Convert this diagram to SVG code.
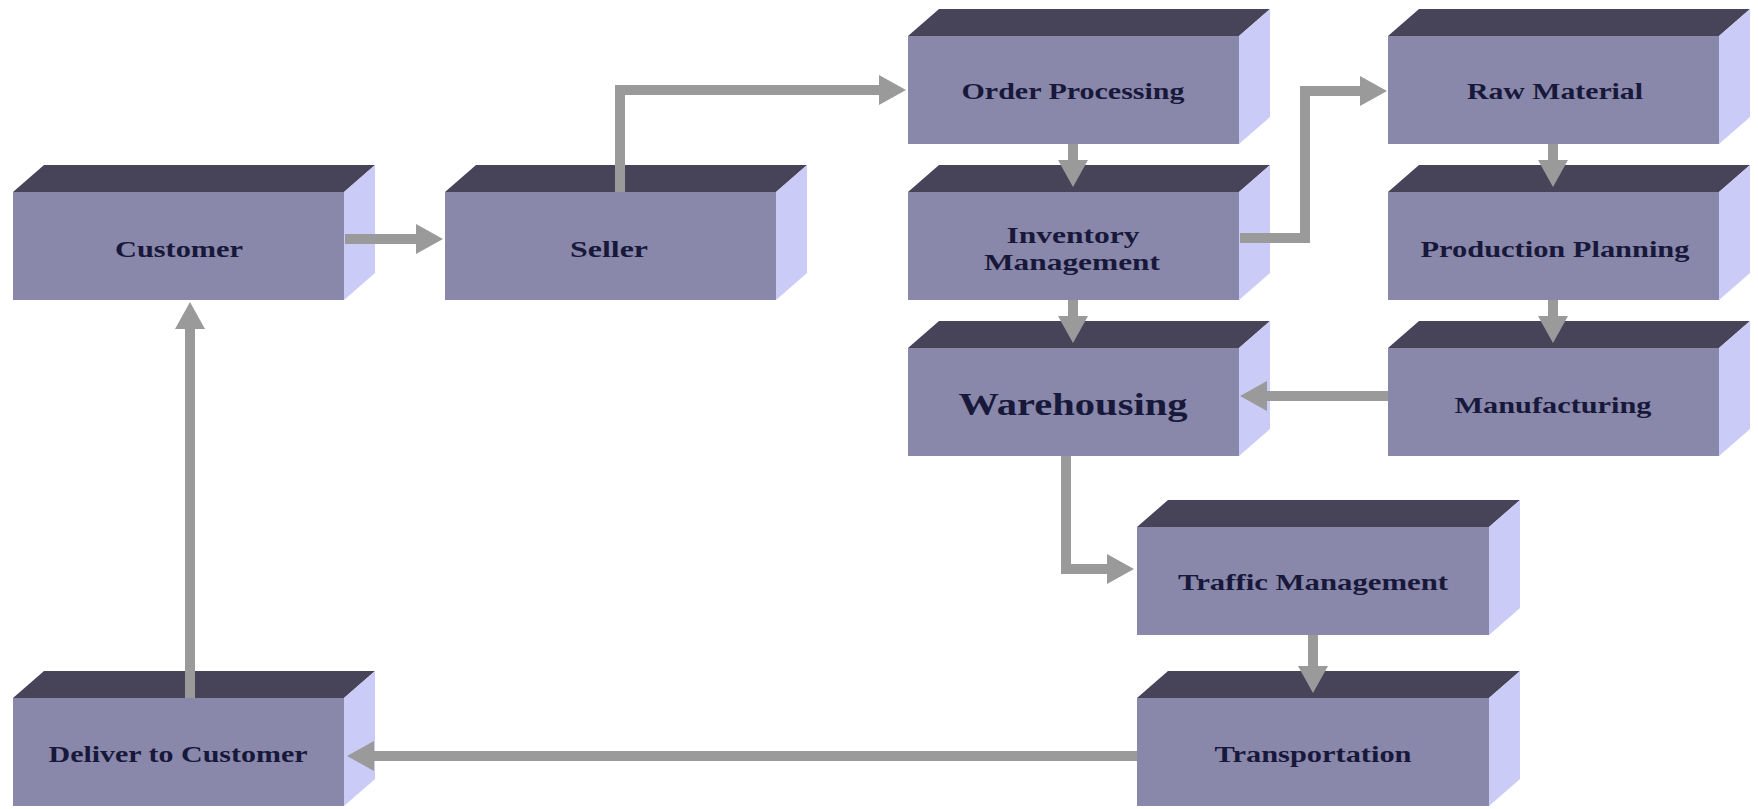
<svg xmlns="http://www.w3.org/2000/svg" width="1758" height="809" viewBox="0 0 1758 809">
<style>
.front{fill:#8987aa}
.top{fill:#47445a}
.side{fill:#cbcbf7}
.lbl{font-family:"Liberation Serif","Times New Roman",serif;font-weight:bold;font-size:24px;fill:#17183a;text-anchor:middle}
.big{font-size:32px}
.conn{fill:none;stroke:#9a9a9a;stroke-width:10;stroke-linejoin:miter}
</style>
<defs>
<marker id="ah" markerUnits="userSpaceOnUse" viewBox="0 0 27 30" markerWidth="27" markerHeight="30" refX="1" refY="15" orient="auto">
<path d="M0,0 L27,15 L0,30 Z" fill="#9a9a9a"/>
</marker>
</defs>
<rect width="1758" height="809" fill="#ffffff"/>

<g id="customer">
<rect class="front" x="13" y="192" width="331" height="108"/>
<polygon class="top" points="13,192 44,165 375,165 344,192"/>
<polygon class="side" points="344,192 375,165 375,273 344,300"/>
<text class="lbl" x="179" y="257" textLength="128" lengthAdjust="spacingAndGlyphs">Customer</text>
</g>
<g id="seller">
<rect class="front" x="445" y="192" width="331" height="108"/>
<polygon class="top" points="445,192 476,165 807,165 776,192"/>
<polygon class="side" points="776,192 807,165 807,273 776,300"/>
<text class="lbl" x="609" y="257" textLength="78" lengthAdjust="spacingAndGlyphs">Seller</text>
</g>
<g id="order-processing">
<rect class="front" x="908" y="36" width="331" height="108"/>
<polygon class="top" points="908,36 939,9 1270,9 1239,36"/>
<polygon class="side" points="1239,36 1270,9 1270,117 1239,144"/>
<text class="lbl" x="1073" y="99" textLength="223" lengthAdjust="spacingAndGlyphs">Order Processing</text>
</g>
<g id="inventory-management">
<rect class="front" x="908" y="192" width="331" height="108"/>
<polygon class="top" points="908,192 939,165 1270,165 1239,192"/>
<polygon class="side" points="1239,192 1270,165 1270,273 1239,300"/>
<text class="lbl" x="1073" y="243" textLength="133" lengthAdjust="spacingAndGlyphs">Inventory</text>
<text class="lbl" x="1072" y="270" textLength="176" lengthAdjust="spacingAndGlyphs">Management</text>
</g>
<g id="warehousing">
<rect class="front" x="908" y="348" width="331" height="108"/>
<polygon class="top" points="908,348 939,321 1270,321 1239,348"/>
<polygon class="side" points="1239,348 1270,321 1270,429 1239,456"/>
<text class="lbl big" x="1073" y="415" textLength="229" lengthAdjust="spacingAndGlyphs">Warehousing</text>
</g>
<g id="raw-material">
<rect class="front" x="1388" y="36" width="331" height="108"/>
<polygon class="top" points="1388,36 1419,9 1750,9 1719,36"/>
<polygon class="side" points="1719,36 1750,9 1750,117 1719,144"/>
<text class="lbl" x="1555" y="99" textLength="176" lengthAdjust="spacingAndGlyphs">Raw Material</text>
</g>
<g id="production-planning">
<rect class="front" x="1388" y="192" width="331" height="108"/>
<polygon class="top" points="1388,192 1419,165 1750,165 1719,192"/>
<polygon class="side" points="1719,192 1750,165 1750,273 1719,300"/>
<text class="lbl" x="1555" y="257" textLength="269" lengthAdjust="spacingAndGlyphs">Production Planning</text>
</g>
<g id="manufacturing">
<rect class="front" x="1388" y="348" width="331" height="108"/>
<polygon class="top" points="1388,348 1419,321 1750,321 1719,348"/>
<polygon class="side" points="1719,348 1750,321 1750,429 1719,456"/>
<text class="lbl" x="1553" y="413" textLength="197" lengthAdjust="spacingAndGlyphs">Manufacturing</text>
</g>
<g id="traffic-management">
<rect class="front" x="1137" y="527" width="352" height="108"/>
<polygon class="top" points="1137,527 1168,500 1520,500 1489,527"/>
<polygon class="side" points="1489,527 1520,500 1520,608 1489,635"/>
<text class="lbl" x="1313" y="590" textLength="270" lengthAdjust="spacingAndGlyphs">Traffic Management</text>
</g>
<g id="transportation">
<rect class="front" x="1137" y="698" width="352" height="108"/>
<polygon class="top" points="1137,698 1168,671 1520,671 1489,698"/>
<polygon class="side" points="1489,698 1520,671 1520,779 1489,806"/>
<text class="lbl" x="1313" y="762" textLength="197" lengthAdjust="spacingAndGlyphs">Transportation</text>
</g>
<g id="deliver-to-customer">
<rect class="front" x="13" y="698" width="331" height="108"/>
<polygon class="top" points="13,698 44,671 375,671 344,698"/>
<polygon class="side" points="344,698 375,671 375,779 344,806"/>
<text class="lbl" x="178" y="762" textLength="259" lengthAdjust="spacingAndGlyphs">Deliver to Customer</text>
</g>

<g id="connectors">
<path class="conn" marker-end="url(#ah)" d="M345,239 H417"/>
<path class="conn" marker-end="url(#ah)" d="M620,192 V90 H880"/>
<path class="conn" marker-end="url(#ah)" d="M1073,144 V161"/>
<path class="conn" marker-end="url(#ah)" d="M1073,300 V317"/>
<path class="conn" marker-end="url(#ah)" d="M1240,238 H1305 V91 H1361"/>
<path class="conn" marker-end="url(#ah)" d="M1553,144 V161"/>
<path class="conn" marker-end="url(#ah)" d="M1553,300 V317"/>
<path class="conn" marker-end="url(#ah)" d="M1388,396 H1266"/>
<path class="conn" marker-end="url(#ah)" d="M1066,456 V569 H1108"/>
<path class="conn" marker-end="url(#ah)" d="M1313,635 V667"/>
<path class="conn" marker-end="url(#ah)" d="M1137,756 H373"/>
<path class="conn" marker-end="url(#ah)" d="M190,698 V328"/>
</g>
</svg>
